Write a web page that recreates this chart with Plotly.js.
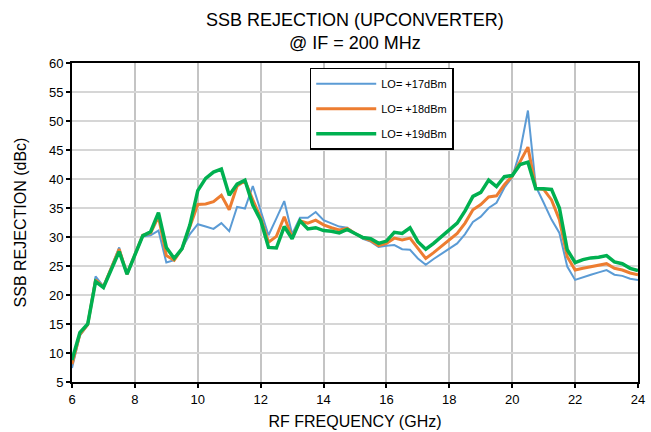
<!DOCTYPE html>
<html>
<head>
<meta charset="utf-8">
<script src="https://cdn.plot.ly/plotly-3.0.1.min.js"></script>
<style>html,body{margin:0;padding:0;background:#fff;}#chart{width:651px;height:432px;}</style>
</head>
<body>
<div id="chart"></div>
<script>
const freq = [6,6.25,6.5,6.75,7,7.25,7.5,7.75,8,8.25,8.5,8.75,9,9.25,9.5,9.75,10,10.25,10.5,10.75,11,11.25,11.5,11.75,12,12.25,12.5,12.75,13,13.25,13.5,13.75,14,14.25,14.5,14.75,15,15.25,15.5,15.75,16,16.25,16.5,16.75,17,17.25,17.5,17.75,18,18.25,18.5,18.75,19,19.25,19.5,19.75,20,20.25,20.5,20.75,21,21.25,21.5,21.75,22,22.25,22.5,22.75,23,23.25,23.5,23.75,24];

const lo17 = [7.4,13.0,14.8,23.2,21.5,24.8,28.2,23.5,27.0,30.1,30.3,31.1,25.6,26.0,28.0,30.5,32.2,31.8,31.4,32.4,31.0,35.2,34.9,38.8,34.4,30.3,33.2,36.2,30.5,33.3,33.3,34.3,32.9,32.3,31.8,31.6,30.6,29.7,29.2,28.3,28.5,28.6,27.9,27.8,26.3,25.2,26.2,27.1,28.1,28.9,30.5,32.6,33.5,35.0,35.9,38.5,40.3,44.8,51.8,38.7,35.9,33.0,30.7,24.9,22.6,23.1,23.5,23.9,24.3,23.5,23.3,22.8,22.6];

const lo18 = [8.1,13.2,14.9,22.6,21.4,24.6,27.9,23.6,27.0,30.3,30.7,33.5,26.8,26.0,28.0,32.0,35.6,35.7,36.1,37.2,34.7,38.8,39.7,36.4,33.3,29.1,30.1,33.5,29.9,32.8,32.4,32.9,32.1,31.6,31.2,31.5,30.6,29.9,29.4,28.5,28.9,29.8,29.5,29.8,28.1,26.3,27.3,28.4,29.5,30.6,32.4,34.7,35.6,36.9,37.1,39.0,40.5,43.0,45.5,38.4,38.2,36.4,33.0,26.6,24.3,24.6,24.9,25.1,25.4,24.6,24.3,23.8,23.5];

const lo19 = [8.8,13.5,15.0,22.3,21.3,24.3,27.5,23.6,27.0,30.2,30.9,34.2,28.2,26.3,28.0,32.1,38.0,40.1,41.2,41.7,37.2,39.1,39.8,35.5,32.9,28.2,28.1,31.8,29.7,32.8,31.4,31.6,31.1,31.0,30.7,31.3,30.6,29.9,29.7,28.9,29.3,30.8,30.6,31.6,29.2,27.9,28.9,30.1,31.2,32.4,34.5,37.0,37.7,39.8,38.7,40.4,40.6,42.5,42.9,38.3,38.3,38.2,35.0,27.8,25.6,26.1,26.4,26.5,26.8,25.7,25.4,24.6,24.2];

const seriesNames = ['LO= +17dBm','LO= +18dBm','LO= +19dBm'];
const xTicks = [6,8,10,12,14,16,18,20,22,24];
const yTicks = [5,10,15,20,25,30,35,40,45,50,55,60];

const font = 'Liberation Sans, Arial, sans-serif';
const traces = [
  {x: freq, y: lo17, name: seriesNames[0], legendgroup: 'a', mode: 'lines', line: {color: '#5b9bd5', width: 2}},
  {x: freq, y: lo18, name: seriesNames[1], legendgroup: 'b', mode: 'lines', line: {color: '#ed7d31', width: 3}},
  {x: freq, y: lo19, name: seriesNames[2], legendgroup: 'c', mode: 'lines', line: {color: '#00b050', width: 3.5}}
];

const layout = {
  width: 651, height: 432,
  margin: {l: 72, r: 13, t: 63, b: 50},
  paper_bgcolor: '#fff', plot_bgcolor: '#fff',
  font: {family: font, color: '#000', size: 12},
  title: {text: 'SSB REJECTION (UPCONVERTER)<br>@ IF = 200 MHz', x: 0.545, xref: 'container', y: 0.94, yref: 'container', yanchor: 'top', font: {family: font, size: 18, color: '#000'}},
  xaxis: {
    range: [6, 24], tickvals: xTicks, ticktext: xTicks.map(String),
    showgrid: true, gridcolor: '#c4c4c4', gridwidth: 2,
    showline: true, linecolor: '#000', linewidth: 2, mirror: true,
    ticks: 'outside', ticklen: 4, tickwidth: 2, tickcolor: '#000',
    tickfont: {family: font, size: 13}, zeroline: false,
    title: {text: 'RF FREQUENCY (GHz)', font: {family: font, size: 16}, standoff: 10}
  },
  yaxis: {
    range: [5, 60], tickvals: yTicks, ticktext: yTicks.map(String),
    showgrid: true, gridcolor: '#d6d6d6', gridwidth: 1.5,
    showline: true, linecolor: '#000', linewidth: 2, mirror: true,
    ticks: 'outside', ticklen: 4, tickwidth: 2, tickcolor: '#000',
    tickfont: {family: font, size: 13}, zeroline: false,
    title: {text: 'SSB REJECTION (dBc)', font: {family: font, size: 16}, standoff: 18}
  },
  legend: {
    x: 0.42, y: 0.985, xanchor: 'left', yanchor: 'top',
    bgcolor: '#fff', bordercolor: '#000', borderwidth: 1.5,
    font: {family: font, size: 11}, traceorder: 'grouped', tracegroupgap: 6,
    itemwidth: 60
  },
  showlegend: true
};

Plotly.newPlot('chart', traces, layout, {displayModeBar: false, staticPlot: true});
</script>
</body>
</html>
